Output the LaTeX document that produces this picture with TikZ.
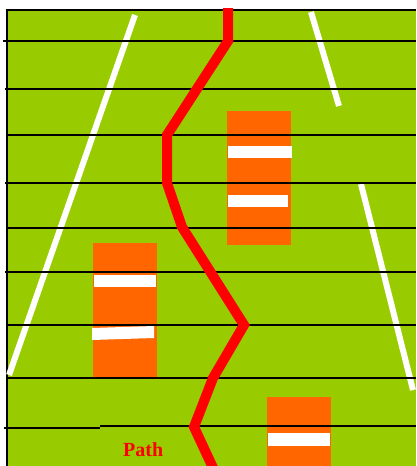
\documentclass[tikz,border=0pt]{standalone}
\usepackage{fontspec}
\setmainfont{Liberation Serif}
\definecolor{fieldgreen}{HTML}{99CC00}
\definecolor{blockorange}{HTML}{FF6600}
\definecolor{pathred}{HTML}{FF0000}
\tikzset{
  rowline/.style={draw=black, line width=1.6pt},
  whitestripe/.style={draw=white, line width=6pt},
  block/.style={fill=blockorange},
  bar/.style={fill=white},
  redpath/.style={draw=pathred, line width=10pt, line join=miter},
}
\begin{document}
\begin{tikzpicture}[x=1pt,y=-1pt]
\useasboundingbox (0,0) rectangle (416,466);
\fill[white] (0,0) rectangle (416,466);
% field
\fill[fieldgreen] (7,10) rectangle (416,466);
\draw[black, line width=1.5pt] (7,466) -- (7,10) -- (416,10);
% orange blocks
\fill[block] (227,111) rectangle (291,245);
\fill[block] (93,243) rectangle (157,377);
\fill[block] (267,397) rectangle (331,466);
% white bars
\fill[bar] (228,146) rectangle (292,158);
\fill[bar] (228,195) rectangle (288,207);
\fill[bar] (94,275) rectangle (156,287);
\fill[bar] (92,328) -- (154,326) -- (154,338) -- (92,340) -- cycle;
\fill[bar] (268,433) rectangle (330,446);
% white diagonal stripes
\draw[whitestripe] (135,15) -- (9,375);
\draw[whitestripe] (311,12) -- (339,106);
\draw[whitestripe] (361,184) -- (413,390);
% horizontal lines
\foreach \y/\x in {41/3, 89/5, 135/8, 183/5, 228/8, 272/5, 325/8, 378/8}
  \draw[rowline] (\x,\y) -- (416,\y);
\draw[rowline] (4,428) -- (100,428);
\draw[rowline] (100,426) -- (416,426);
% red path
\draw[redpath] (228,8) -- (228,41) -- (167,135) -- (167,183) -- (182,227)
  -- (244,325) -- (213,378) -- (194,427) -- (215,472);
% label
\node[anchor=base west, inner sep=0pt, text=pathred, font=\fontsize{20}{20}\selectfont\bfseries] (lbl) at (123,456) {Path};
\end{tikzpicture}
\end{document}
